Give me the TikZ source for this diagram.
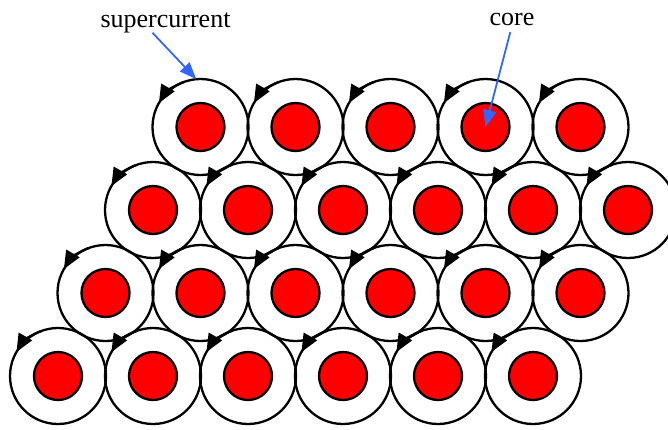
\documentclass[tikz,border=0pt]{standalone}
\usepackage{fontspec}
\setmainfont{Liberation Serif}
\usetikzlibrary{arrows.meta}
\definecolor{coreRed}{RGB}{255,0,0}
\definecolor{pointerBlue}{RGB}{51,102,255}

\begin{document}
\begin{tikzpicture}[
      x=1pt, y=1pt,
      vortex/.style = {circle, draw=black, line width=2.3pt,
        minimum size=96pt, inner sep=0pt, outer sep=0pt},
      core/.style = {circle, draw=black, fill=coreRed, line width=2.3pt,
        minimum size=48pt, inner sep=0pt},
      flow/.style = {-{Triangle[length=18pt,width=15pt]}, line width=2.3pt},
      pointer/.style = {-{Triangle[length=17pt,width=13pt]}, line width=1.8pt,
        color=pointerBlue},
      lbl/.style = {font=\fontsize{26}{30}\selectfont, inner sep=0pt, anchor=base}
    ]
      \useasboundingbox (0,-429) rectangle (668,0);

      % ===================== Vortex lattice =====================
      \foreach \row/\ncols in {1/5, 2/6, 3/6, 4/6} {
        \foreach \col in {1,...,\ncols} {
          \pgfmathsetmacro{\cx}{58 + (4-\row)*47.5 + (\col-1)*95}
          \pgfmathsetmacro{\cy}{-127 - (\row-1)*83}
          \node[vortex] (v\row\col) at (\cx,\cy) {};
          \node[core] (c\row\col) at (v\row\col) {};
          % circulating current
          \draw[flow] (v\row\col.110) arc[start angle=110, end angle=150, radius=48];
        }
      }

      % ===================== Labels =====================
      \node[lbl] (lsc)   at (165.5,-27) {supercurrent};
      \node[lbl] (lcore) at (512,-25)   {core};

      \draw[pointer] ([xshift=-13pt]lsc.south) -- (v11.95);
      \draw[pointer, shorten <=7pt] (lcore.south) -- (c14.center);

    \end{tikzpicture}
\end{document}
